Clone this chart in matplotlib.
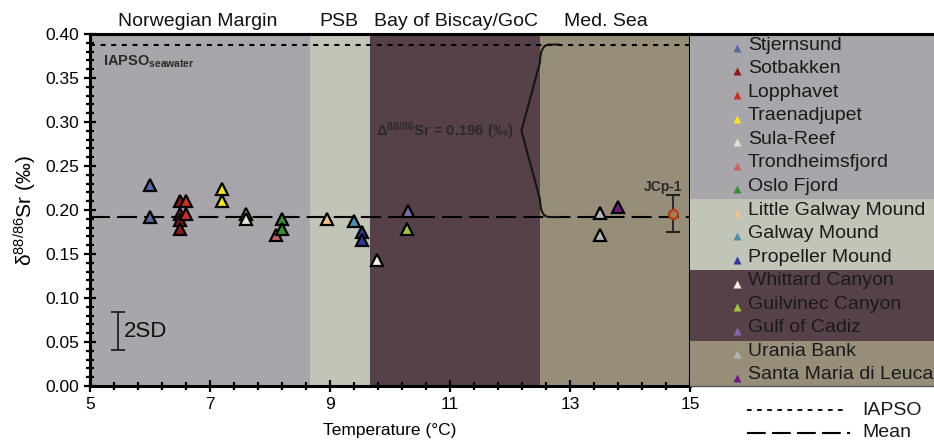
import numpy as np
import matplotlib
matplotlib.use("Agg")
from matplotlib import pyplot as plt
from matplotlib.path import Path
from matplotlib.patches import PathPatch
from matplotlib.lines import Line2D
from matplotlib.ticker import MultipleLocator, FormatStrFormatter
import matplotlib.transforms as mtransforms

plt.rcParams['font.family'] = ['Liberation Sans', 'DejaVu Sans']
plt.rcParams['mathtext.fontset'] = 'custom'
plt.rcParams['mathtext.rm'] = 'Liberation Sans'
plt.rcParams['mathtext.it'] = 'Liberation Sans:italic'
plt.rcParams['mathtext.bf'] = 'Liberation Sans:bold'

# Sites, legend colours and measured values (temperature in degC, d88/86Sr in permil)
site_names = ['Stjernsund', 'Sotbakken', 'Lopphavet', 'Traenadjupet', 'Sula-Reef',
              'Trondheimsfjord', 'Oslo Fjord', 'Little Galway Mound', 'Galway Mound',
              'Propeller Mound', 'Whittard Canyon', 'Guilvinec Canyon', 'Gulf of Cadiz',
              'Urania Bank', 'Santa Maria di Leuca']
site_colors = ['#5a68a0', '#8a1c1c', '#cc3024', '#f0e22a', '#dce8d4',
               '#c06464', '#3c8c34', '#f0c48e', '#4f8fae', '#2e3a96',
               '#f8f0e6', '#a2c444', '#7e6cae', '#b4b4b6', '#6e1a7e']
site_temp = [[6.0, 6.0], [6.5, 6.5, 6.5, 6.5], [6.6, 6.6], [7.2, 7.2], [7.6, 7.6],
             [8.1], [8.2, 8.2], [8.95], [9.4], [9.53, 9.53], [9.78], [10.28], [10.3],
             [13.5, 13.5], [13.8]]
site_d88 = [[0.228, 0.192], [0.210, 0.196, 0.189, 0.178], [0.210, 0.195],
            [0.224, 0.210], [0.195, 0.190], [0.172], [0.190, 0.178], [0.190],
            [0.188], [0.175, 0.166], [0.143], [0.178], [0.199], [0.197, 0.172], [0.203]]

# Regions: temperature ranges, colours, and how many legend entries each holds
region_names = ['Norwegian Margin', 'PSB', 'Bay of Biscay/GoC', 'Med. Sea']
region_edges = [5.0, 8.67, 9.67, 12.5, 15.0]
region_label_x = [6.8, 9.15, 11.1, 13.6]
region_colors = ['#a8a5ab', '#c1c5b8', '#574149', '#968e78']
region_counts = [7, 3, 3, 2]

iapso = 0.388
mean_val = 0.192
jcp_temp, jcp_val, jcp_err = 14.72, 0.196, 0.021
sd2_temp, sd2_lo, sd2_hi = 5.47, 0.041, 0.084

fig = plt.figure(figsize=(9.34, 4.44), dpi=100)
ax = fig.add_axes([90/934, 1-386/444, 600/934, 352/444])

top_trans = mtransforms.blended_transform_factory(ax.transData, ax.transAxes)
for i in range(len(region_names)):
    ax.axvspan(region_edges[i], region_edges[i+1], color=region_colors[i], lw=0, zorder=0)
    ax.text(region_label_x[i], 1.035, region_names[i], transform=top_trans,
            ha='center', va='center', fontsize=14, color='#111111')

ax.axhline(iapso, color='black', lw=1.5, dashes=[2.4, 2.7], zorder=2)
ax.axhline(mean_val, color='black', lw=1.5, dashes=[9.6, 3.4], zorder=2)

for name, c, t, v in zip(site_names, site_colors, site_temp, site_d88):
    ax.plot(t, v, ls='none', marker='^', ms=8.5, mfc=c, mec='black', mew=1.6, zorder=4)

# JCp-1 reference material
ax.errorbar(jcp_temp, jcp_val, yerr=jcp_err, fmt='o', ms=6.5, mfc='#a8785a', mec='#b43c0c',
            mew=1.5, ecolor='#222222', elinewidth=1.3, capsize=5, capthick=1.3, zorder=4)
ax.text(14.55, 0.226, 'JCp-1', ha='center', va='center',
        fontsize=10, fontweight='bold', color='#2a2a2a')

# 2SD bar
ax.errorbar(sd2_temp, (sd2_lo + sd2_hi) / 2, yerr=(sd2_hi - sd2_lo) / 2, fmt='none',
            ecolor='#222222', elinewidth=1.3, capsize=5, capthick=1.3)
ax.text(sd2_temp + 0.09, (sd2_lo + sd2_hi) / 2, '2SD', ha='left', va='center', fontsize=16, color='#111111')

ax.text(5.22, 0.368, r'IAPSO$_{\mathbf{seawater}}$', ha='left', va='center',
        fontsize=10.5, fontweight='bold', color='#2a2a2a')

# brace between IAPSO and mean
mid = (iapso + mean_val) / 2
verts = [(12.83, iapso), (12.66, iapso), (12.5, iapso), (12.5, iapso - 0.02),
         (12.19, mid),
         (12.5, mean_val + 0.02), (12.5, mean_val), (12.66, mean_val), (12.83, mean_val)]
codes = [Path.MOVETO, Path.LINETO, Path.CURVE3, Path.CURVE3, Path.LINETO,
         Path.LINETO, Path.CURVE3, Path.CURVE3, Path.LINETO]
ax.add_patch(PathPatch(Path(verts, codes), fc='none', ec='#151515', lw=1.5, zorder=3))
ax.text(9.76, mid, r'$\mathregular{\Delta^{88/86}}$Sr = %.3f (‰)' % (iapso - mean_val),
        ha='left', va='center', fontsize=10.7, fontweight='bold', color='#2a2a2a')

ax.set_xlim(5, 15)
ax.set_ylim(0, 0.40)
ax.set_xticks(np.arange(5, 15.01, 2))
ax.set_xticks(np.arange(5, 15.01, 0.4), minor=True)
ax.yaxis.set_major_locator(MultipleLocator(0.05))
ax.yaxis.set_minor_locator(MultipleLocator(0.01))
ax.yaxis.set_major_formatter(FormatStrFormatter('%.2f'))
ax.tick_params(which='major', direction='inout', length=8, width=1.6, labelsize=12.5, pad=4)
ax.tick_params(which='minor', direction='inout', length=6, width=1.6)
for s in ax.spines.values():
    s.set_linewidth(2.2)
ax.set_xlabel('Temperature (°C)', fontsize=12.5, labelpad=8)
ax.set_ylabel(r'$\mathregular{\delta^{88/86}}$Sr (‰)', fontsize=15, labelpad=4)

# legend panel
lax = fig.add_axes([690/934, 1-386/444, 244/934, 352/444])
n = len(site_names)
lax.set_xlim(0, 1)
lax.set_ylim(n - 0.53, -0.47)
start = -0.47
for k, cnt in enumerate(region_counts):
    if k < len(region_counts) - 1:
        end = sum(region_counts[:k+1]) - 0.45
    else:
        end = n - 0.53
    lax.axhspan(start, end, color=region_colors[k], lw=0, zorder=0)
    start = end
for i, (name, c) in enumerate(zip(site_names, site_colors)):
    lax.plot(0.193, i + 0.12, ls='none', marker='^', ms=6, mfc=c, mec='none')
    lax.text(0.237, i, name, ha='left', va='center', fontsize=14, color='#1a1a1a', clip_on=True)
lax.set_xticks([])
lax.set_yticks([])
lax.spines['left'].set_visible(False)
lax.spines['right'].set_visible(False)
lax.spines['top'].set_linewidth(2.2)
lax.spines['bottom'].set_linewidth(1.0)
lax.spines['bottom'].set_color('#555555')

# line style key below
fig.add_artist(Line2D([747/934, 848/934], [1-410/444, 1-410/444], color='black', lw=1.3, dashes=[2.6, 3.0]))
fig.add_artist(Line2D([747/934, 850/934], [1-433/444, 1-433/444], color='black', lw=1.5, dashes=[9.0, 3.0]))
fig.text(862/934, 1-410/444, 'IAPSO', ha='left', va='center', fontsize=14, color='#1a1a1a')
fig.text(862/934, 1-432/444, 'Mean', ha='left', va='center', fontsize=14, color='#1a1a1a')

fig.savefig('out.png', dpi=100)
